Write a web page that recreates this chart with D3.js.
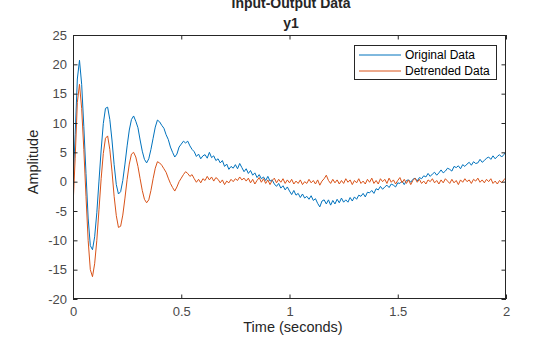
<!DOCTYPE html>
<html>
<head>
<meta charset="utf-8">
<script src="https://cdn.jsdelivr.net/npm/d3@7"></script>
<style>
  html, body { margin: 0; padding: 0; background: #fff; }
  svg { display: block; }
  text { font-family: "Liberation Sans", Arial, Helvetica, sans-serif; }
</style>
</head>
<body>
<svg id="chart" width="560" height="337"></svg>
<script>
// ---- data ----
const sampleStart = 0;      // seconds
const sampleStep = 0.01;    // seconds between samples
const originalData = [
  -0.5, 8.0, 17.5, 20.7, 16.6, 9.4, 1.4, -6.2, -10.9, -11.6,
  -9.4, -5.3, 0.1, 5.4, 9.9, 12.5, 12.7, 10.6, 7.1, 2.9,
  -0.5, -2.1, -1.7, 0.2, 3.0, 6.1, 8.8, 10.6, 11.2, 10.3,
  9.2, 7.1, 5.2, 3.8, 3.2, 3.9, 5.5, 7.4, 9.3, 10.5,
  10.2, 9.6, 9.1, 8.0, 7.2, 5.9, 5.0, 4.2, 4.7, 5.9,
  6.4, 6.9, 6.6, 6.9, 6.1, 5.5, 5.1, 4.3, 4.7, 3.9,
  4.4, 4.6, 4.0, 5.0, 4.1, 4.4, 3.6, 3.9, 3.2, 3.6,
  2.6, 3.0, 2.1, 2.6, 2.3, 2.9, 2.2, 3.1, 2.4, 1.7,
  2.2, 1.4, 1.9, 1.1, 1.5, 0.7, 1.2, 0.5, 0.8, 0.2,
  0.9, 0.1, 0.3, -0.4, -0.8, -0.3, -1.1, -0.7, -1.4, -0.9,
  -1.6, -2.2, -1.5, -2.3, -2.0, -2.7, -2.1, -2.8, -2.5, -3.0,
  -2.4, -3.2, -2.9, -3.7, -4.3, -3.3, -3.1, -3.8, -3.1, -4.0,
  -3.2, -3.8, -3.0, -3.6, -2.8, -3.5, -3.1, -3.5, -2.7, -3.3,
  -2.6, -3.0, -2.3, -2.5, -2.0, -2.6, -1.8, -1.9, -1.5, -2.0,
  -1.2, -1.4, -0.8, -1.3, -0.9, -0.6, -1.0, -0.4, -0.6, -0.9,
  -0.2, -0.3, 0.1, -0.5, 0.2, 0.3, -0.1, 0.4, 0.6, 0.1,
  0.7, 0.5, 1.0, 0.8, 1.4, 0.9, 1.3, 1.6, 1.1, 1.5,
  2.0, 1.5, 1.8, 2.3, 2.1, 1.8, 2.6, 2.4, 2.7, 2.2,
  2.9, 2.6, 3.0, 3.3, 2.8, 3.4, 3.1, 3.2, 3.8, 3.3,
  3.6, 4.0, 4.2, 3.8, 4.4, 3.9, 4.3, 4.6, 4.2, 4.6,
  5.1
];
const detrendedData = [
  -4.3, 4.0, 13.5, 16.6, 12.5, 5.5, -2.5, -10.0, -15.0, -16.2,
  -14.0, -10.0, -4.8, 0.5, 4.8, 7.4, 7.8, 5.5, 1.8, -2.5,
  -5.8, -7.8, -7.6, -5.7, -2.8, 0.4, 3.0, 4.7, 5.0, 4.2,
  2.6, 0.5, -1.5, -3.0, -3.6, -3.1, -1.5, 0.5, 2.3, 3.4,
  3.2, 2.8, 2.2, 1.6, 0.6, -0.3, -1.0, -1.6, -0.9, 0.0,
  0.6, 1.2, 1.7, 1.4, 0.9, 1.2, 0.5, -0.1, 0.4, -0.2,
  0.5, 0.2, 0.9, 0.3, 0.8, 0.1, 0.7, 0.4, -0.2, 0.3,
  -0.5, 0.1, -0.2, 0.4, 0.0, 0.5, 0.2, 0.8, 0.3, 0.6,
  0.1, 0.6, -0.2, 0.4, -0.4, 0.2, 0.7, -0.1, 0.5, -0.3,
  0.3, -0.5, 0.2, 0.6, -0.2, 0.4, -0.1, 0.5, -0.3, 0.3,
  -0.2, 0.4, -0.4, 0.1, -0.3, 0.3, -0.5, 0.0, -0.3, 0.4,
  -0.2, 0.2, -0.4, 0.3, -0.6, 0.1, 0.5, 1.1, 0.2, -0.3,
  0.4, -0.2, 0.3, -0.4, 0.2, -0.3, 0.5, -0.1, 0.3, -0.5,
  0.2, -0.2, 0.5, -0.3, 0.1, -0.4, 0.4, -0.1, 0.6, -0.3,
  0.2, -0.4, 0.5, 0.0, 0.4, -0.3, 0.6, -0.1, 0.3, -0.4,
  0.2, 0.7, -0.2, 0.4, -0.3, 0.3, -0.5, 0.2, 0.6, -0.1,
  0.4, -0.3, 0.1, -0.4, 0.3, 0.0, 0.5, -0.2, 0.2, -0.4,
  0.3, -0.2, 0.5, 0.1, -0.3, 0.4, -0.2, 0.2, -0.5, 0.3,
  -0.1, 0.5, 0.0, 0.3, -0.3, 0.4, 0.1, 0.6, -0.1, 0.3,
  -0.2, 0.4, 0.0, 0.5, -0.3, 0.1, -0.4, 0.2, -0.2, 0.3,
  0.7
];
const xTicks = [0, 0.5, 1, 1.5, 2];
const xTickLabels = ["0", "0.5", "1", "1.5", "2"];
const yTicks = [-20, -15, -10, -5, 0, 5, 10, 15, 20, 25];
const yTickLabels = ["-20", "-15", "-10", "-5", "0", "5", "10", "15", "20", "25"];
const seriesNames = ["Original Data", "Detrended Data"];
const seriesColors = ["#0072BD", "#D95319"];

// ---- layout ----
const svg = d3.select("#chart");
const L = 73, R = 506, T = 35, B = 299;
const x = d3.scaleLinear().domain([0, 2]).range([L, R]);
const y = d3.scaleLinear().domain([-20, 25]).range([B, T]);
const axisColor = "#262626";
const labelColor = "#4a4a4a";

const series = [originalData, detrendedData].map((vals, k) => ({
  name: seriesNames[k], color: seriesColors[k],
  points: vals.map((v, i) => [sampleStart + i * sampleStep, v])
}));

// plot lines (clipped)
svg.append("defs").append("clipPath").attr("id", "clip")
  .append("rect").attr("x", L).attr("y", T).attr("width", R - L).attr("height", B - T);

const line = d3.line().x(d => x(d[0])).y(d => y(d[1]));
svg.append("g").attr("clip-path", "url(#clip)")
  .selectAll("path").data(series).join("path")
  .attr("d", d => line(d.points))
  .attr("fill", "none")
  .attr("stroke", d => d.color)
  .attr("stroke-width", 1)
  .attr("stroke-linejoin", "round");

// axes
function styleAxis(g, showLabels) {
  g.select(".domain").remove();
  g.selectAll(".tick line").attr("stroke", axisColor).attr("stroke-width", 1);
  if (showLabels) {
    g.selectAll(".tick text").attr("fill", labelColor).style("font-size", "13px");
  } else {
    g.selectAll(".tick text").remove();
  }
}
const tickLen = 4.5;
svg.append("g").attr("transform", `translate(0,${B})`)
  .call(d3.axisBottom(x).tickValues(xTicks).tickFormat((d, i) => xTickLabels[i]).tickSize(-tickLen).tickPadding(8))
  .call(g => styleAxis(g, true));
svg.append("g").attr("transform", `translate(0,${T})`)
  .call(d3.axisTop(x).tickValues(xTicks).tickSize(-tickLen))
  .call(g => styleAxis(g, false));
svg.append("g").attr("transform", `translate(${L},0)`)
  .call(d3.axisLeft(y).tickValues(yTicks).tickFormat((d, i) => yTickLabels[i]).tickSize(-tickLen).tickPadding(6))
  .call(g => styleAxis(g, true));
svg.append("g").attr("transform", `translate(${R},0)`)
  .call(d3.axisRight(y).tickValues(yTicks).tickSize(-tickLen))
  .call(g => styleAxis(g, false));

// box
svg.append("rect")
  .attr("x", L + 0.5).attr("y", T + 0.5)
  .attr("width", R - L - 1).attr("height", B - T - 1)
  .attr("fill", "none").attr("stroke", axisColor).attr("stroke-width", 1);

// titles
svg.append("text").attr("x", 291).attr("y", 8).attr("text-anchor", "middle")
  .attr("fill", "#262626").style("font-size", "14px").style("font-weight", "bold")
  .text("Input-Output Data");
svg.append("text").attr("x", 291).attr("y", 28).attr("text-anchor", "middle")
  .attr("fill", "#262626").style("font-size", "14px").style("font-weight", "bold")
  .text("y1");
svg.append("text").attr("x", 293).attr("y", 332).attr("text-anchor", "middle")
  .attr("fill", "#262626").style("font-size", "14.5px")
  .text("Time (seconds)");
svg.append("text").attr("transform", "translate(38,162) rotate(-90)")
  .attr("text-anchor", "middle")
  .attr("fill", "#262626").style("font-size", "14.5px")
  .text("Amplitude");

// legend
const lg = svg.append("g");
lg.append("rect").attr("x", 354.5).attr("y", 45.5).attr("width", 142).attr("height", 34)
  .attr("fill", "#fff").attr("stroke", axisColor).attr("stroke-width", 1);
series.forEach((s, i) => {
  const yy = 55 + i * 16;
  lg.append("line").attr("x1", 359).attr("x2", 401).attr("y1", yy).attr("y2", yy)
    .attr("stroke", s.color).attr("stroke-width", 1);
  lg.append("text").attr("x", 405).attr("y", yy + 4.3)
    .attr("fill", "#000").style("font-size", "12px").text(s.name);
});
</script>
</body>
</html>
